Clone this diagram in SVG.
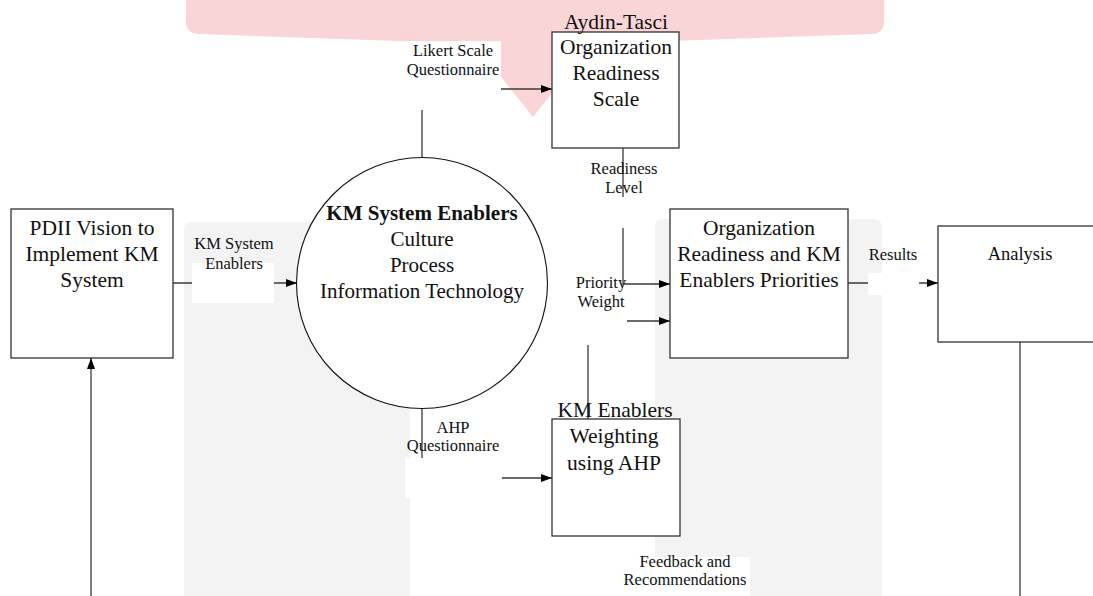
<svg xmlns="http://www.w3.org/2000/svg" width="1093" height="596" viewBox="0 0 1093 596">
<style>
.box{fill:#fff;stroke:#333;stroke-width:1.3}
.node{fill:#fff;stroke:#111;stroke-width:1.1}
.t{font-family:"Liberation Serif","Times New Roman",serif;fill:#111;text-anchor:middle}
.big{font-size:21.5px}
.lbl{font-size:16.5px}
.conn{fill:none;stroke:#3a3a3a;stroke-width:1.3}
.bg{fill:#fff;stroke:none}
</style>
<defs>
<marker id="arr" markerUnits="userSpaceOnUse" markerWidth="12" markerHeight="9" refX="11" refY="4" orient="auto">
<path d="M0,0 L11,4 L0,8 Z" fill="#000"/>
</marker>
</defs>
<rect width="1093" height="596" fill="#fff"/>
<g id="watermark">
<path d="M186,0 H884 V22 Q884,33 872,34 L640,42 Q602,44 581,57 L533,117 L485,57 Q464,44 426,42 L198,34 Q186,33 186,22 Z" fill="#f9d5d8"/>
<path d="M184,596 V230 Q184,222 192,222 H402 Q410,222 410,230 V596 Z" fill="#f3f3f3"/>
<path d="M655,596 V228 Q655,219 663,219 H874 Q882,219 882,228 V596 Z" fill="#f3f3f3"/>
</g>
<g id="connectors">
<path class="conn" d="M173,283 H297" marker-end="url(#arr)"/>
<path class="conn" d="M422,157 V89 H552" marker-end="url(#arr)"/>
<path class="conn" d="M623,148 V197 M623,228 V284 H670" marker-end="url(#arr)"/>
<path class="conn" d="M588,419 V345 M627,321 H670" marker-end="url(#arr)"/>
<path class="conn" d="M422,409 V478 H552" marker-end="url(#arr)"/>
<path class="conn" d="M848,283 H938" marker-end="url(#arr)"/>
<path class="conn" d="M1020,342 V596"/>
<path class="conn" d="M91,596 V358" marker-end="url(#arr)"/>
</g>
<g id="pdii">
<rect class="box" x="11" y="209" width="162" height="149"/>
<text class="t big" x="92" y="235">PDII Vision to</text>
<text class="t big" x="92" y="261">Implement KM</text>
<text class="t big" x="92" y="287">System</text>
</g>
<g id="enablers">
<circle class="node" cx="422" cy="283" r="125.5"/>
<text class="t" x="422" y="220" font-size="21" font-weight="bold">KM System Enablers</text>
<text class="t" x="422" y="246" font-size="21">Culture</text>
<text class="t" x="422" y="272" font-size="21">Process</text>
<text class="t" x="422" y="298" font-size="21">Information Technology</text>
</g>
<g id="aydin">
<rect class="box" x="552" y="32" width="127" height="116"/>
<text class="t big" x="616" y="28.5">Aydin-Tasci</text>
<text class="t big" x="616" y="54">Organization</text>
<text class="t big" x="616" y="80">Readiness</text>
<text class="t big" x="616" y="106">Scale</text>
</g>
<g id="priorities">
<rect class="box" x="670" y="209" width="178" height="149"/>
<text class="t big" x="759" y="235">Organization</text>
<text class="t big" x="759" y="261">Readiness and KM</text>
<text class="t big" x="759" y="287">Enablers Priorities</text>
</g>
<g id="ahp">
<rect class="box" x="552" y="419" width="128" height="117"/>
<text class="t big" x="615" y="416.5">KM Enablers</text>
<text class="t big" x="614" y="443">Weighting</text>
<text class="t big" x="614" y="470">using AHP</text>
</g>
<g id="analysis">
<rect class="box" x="938" y="226" width="160" height="116"/>
<text class="t" x="1020" y="260" font-size="18.5">Analysis</text>
</g>
<g id="labels">
<g id="lbl-km">
<rect class="bg" x="192" y="263" width="82" height="40"/>
<text class="t lbl" x="234" y="249">KM System</text>
<text class="t lbl" x="234" y="269">Enablers</text>
</g>
<g id="lbl-likert">
<rect class="bg" x="398" y="41" width="103" height="69"/>
<text class="t lbl" x="453" y="56">Likert Scale</text>
<text class="t lbl" x="453" y="75">Questionnaire</text>
</g>
<g id="lbl-readiness">
<text class="t lbl" x="624" y="174">Readiness</text>
<text class="t lbl" x="624" y="193">Level</text>
</g>
<g id="lbl-priority">
<text class="t lbl" x="601" y="288">Priority</text>
<text class="t lbl" x="601" y="307">Weight</text>
</g>
<g id="lbl-ahp">
<rect class="bg" x="405" y="458" width="97" height="40"/>
<text class="t lbl" x="453" y="433">AHP</text>
<text class="t lbl" x="453" y="451">Questionnaire</text>
</g>
<g id="lbl-results">
<rect class="bg" x="868" y="273" width="51" height="22"/>
<text class="t lbl" x="893" y="260">Results</text>
</g>
<g id="lbl-feedback">
<rect class="bg" x="618" y="557" width="132" height="39"/>
<text class="t lbl" x="685" y="567">Feedback and</text>
<text class="t lbl" x="685" y="585">Recommendations</text>
</g>
</g>
</svg>
